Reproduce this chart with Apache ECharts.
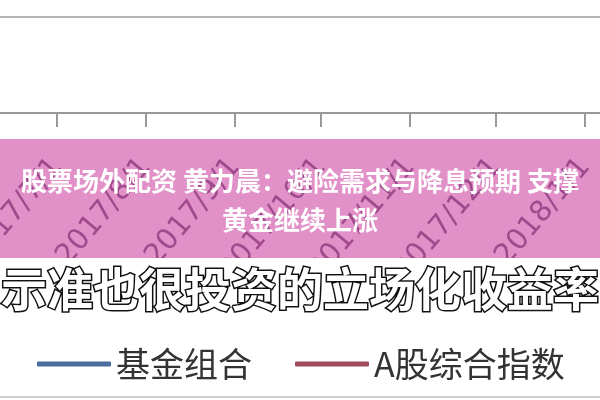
<!DOCTYPE html>
<html>
<head>
<meta charset="utf-8">
<script src="https://cdn.jsdelivr.net/npm/echarts@6/dist/echarts.min.js"></script>
<style>html,body{margin:0;padding:0;background:#fff}#c{width:600px;height:400px}</style>
</head>
<body>
<div id="c"></div>
<script>
const tickDates = ['2017/7/1','2017/8/1','2017/9/1','2017/10/1','2017/11/1','2017/12/1','2018/1/1'];
const fundPortfolio = [];
const aShareIndex = [];
const seriesNames = ['基金组合', 'A股综合指数'];
const titleLines = ['股票场外配资 黄力晨：避险需求与降息预期 支撑', '黄金继续上涨'];
const captionText = '示准也很投资的立场化收益率';

const DAY = 86400000;
const firstTick = new Date(tickDates[0]).getTime();
const lastTick = new Date(tickDates[tickDates.length - 1]).getTime();
const xMin = firstTick - 19.86 * DAY;
const xMax = lastTick + 5.23 * DAY;

function fmt(v) {
  const d = new Date(v);
  return d.getFullYear() + '/' + (d.getMonth() + 1) + '/' + d.getDate();
}

const chart = echarts.init(document.getElementById('c'));
chart.setOption({
  backgroundColor: '#ffffff',
  animation: false,
  grid: { left: 0, right: 0, top: 17, bottom: 287, containLabel: false, outerBoundsMode: 'none' },
  xAxis: {
    type: 'time', min: xMin, max: xMax, z: 5,
    splitNumber: 7, minInterval: 28 * DAY, maxInterval: 31 * DAY,
    splitLine: { show: false },
    axisLine: { lineStyle: { color: '#9a9a9a', width: 2 } },
    axisTick: { length: 14, lineStyle: { color: '#9a9a9a', width: 2 } },
    axisLabel: { formatter: fmt, rotate: 50, margin: 49, fontSize: 29, color: '#9e4a8c', fontFamily: 'DejaVu Sans', hideOverlap: false, showMinLabel: false, showMaxLabel: false }
  },
  yAxis: {
    type: 'value', min: 0, max: 1, interval: 1,
    axisLabel: { show: false }, axisLine: { show: false }, axisTick: { show: false },
    splitLine: { lineStyle: { color: '#b4b4b4', width: 2 } }
  },
  legend: {
    z: 8, left: 37, top: 346, padding: 0, itemWidth: 74, itemHeight: 5, itemGap: 43, icon: 'roundRect',
    textStyle: { fontSize: 34, color: '#333333', fontFamily: 'Noto Sans CJK SC', lineHeight: 36 },
    data: seriesNames
  },
  series: [
    { name: seriesNames[0], type: 'line', data: fundPortfolio, color: '#4a6c9e', showSymbol: false, lineStyle: { width: 4 } },
    { name: seriesNames[1], type: 'line', data: aShareIndex, color: '#a34a5c', showSymbol: false, lineStyle: { width: 4 } }
  ],
  graphic: [
    { type: 'rect', z: 1, shape: { x: 0, y: 139, width: 600, height: 119 }, style: { fill: '#e290c8' } },
    { type: 'rect', z: 6, shape: { x: 0, y: 258, width: 600, height: 142 }, style: { fill: '#ffffff' } },
    { type: 'text', z: 7, x: 300, y: 289, style: { text: captionText, fontSize: 46, fontWeight: 'bold', fontFamily: 'Noto Sans CJK SC', fill: '#ffffff', stroke: '#111111', lineWidth: 3, align: 'center', verticalAlign: 'middle' } },
    { type: 'line', z: 8, shape: { x1: 0, y1: 397, x2: 600, y2: 397 }, style: { stroke: '#cfcfcf', lineWidth: 2 } },
    { type: 'text', z: 9, x: 300, y: 181, style: { text: titleLines[0], fontSize: 26, fontWeight: 'bold', fontFamily: 'Noto Sans CJK SC', fill: '#ffffff', align: 'center', verticalAlign: 'middle' } },
    { type: 'text', z: 9, x: 300, y: 220, style: { text: titleLines[1], fontSize: 26, fontWeight: 'bold', fontFamily: 'Noto Sans CJK SC', fill: '#ffffff', align: 'center', verticalAlign: 'middle' } }
  ]
});
</script>
</body>
</html>
